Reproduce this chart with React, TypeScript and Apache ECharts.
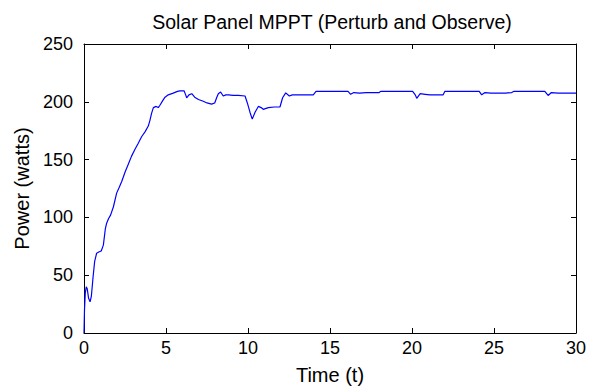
import React, { useEffect, useRef } from "react";
import * as echarts from "echarts";

const title = "Solar Panel MPPT (Perturb and Observe)";
const xName = "Time (t)";
const yName = "Power (watts)";

const timeValues: number[] = [
  0, 0.03, 0.08, 0.14, 0.2, 0.28, 0.37, 0.45, 0.55, 0.65, 0.77, 0.9, 1.05, 1.18, 1.3, 1.38, 1.5, 1.62, 1.79, 1.99,
  2.15, 2.3, 2.5, 2.7, 2.9, 3.11, 3.3, 3.52, 3.72, 3.92, 4.02, 4.12, 4.23, 4.4, 4.53, 4.63, 4.8, 4.94, 5.14, 5.44,
  5.7, 5.85, 6.1, 6.2, 6.26, 6.4, 6.57, 6.75, 6.98, 7.27, 7.5, 7.78, 7.97, 8.1, 8.19, 8.33, 8.49, 8.65, 8.8, 9.1,
  9.41, 9.82, 9.96, 10.12, 10.26, 10.43, 10.63, 10.8, 10.93, 11.24, 11.6, 11.95, 12.11, 12.3, 12.52, 12.7, 12.87,
  13.4, 13.98, 14.15, 14.6, 16.1, 16.26, 16.45, 16.8, 17.2, 17.5, 18.0, 18.09, 20.04, 20.2, 20.29, 20.5, 20.8,
  21.1, 21.5, 21.9, 22.0, 24.1, 24.25, 24.45, 24.8, 25.3, 25.7, 26.08, 26.2, 28.1, 28.3, 28.5, 28.9, 29.43, 30,
];

const powerValues: number[] = [
  0, 20, 35, 40, 38, 30, 27, 32, 48, 62, 69, 70, 71, 76, 90, 95, 99, 102, 109, 121,
  126, 131, 139, 146, 153, 159, 164, 170, 174, 179, 184, 190, 195, 196, 195, 197, 201, 204, 206, 207.5,
  209, 209.5, 209.5, 206, 203.5, 206, 207, 204, 202, 200.5, 199, 198, 199, 204, 207, 208.5, 205, 206, 206, 205.5,
  205.5, 205, 199, 191, 185, 191, 196, 195, 193.5, 195, 195.5, 195.5, 203.5, 207.7, 205, 206, 206,
  206, 206, 209, 209, 209, 206.5, 208, 207.5, 208, 208, 208, 209, 209, 206, 203, 207, 206.5,
  206, 206, 206, 209, 209, 206, 208, 207.5, 207.5, 207.5, 208, 209, 209, 205.5, 208, 207.5, 207.5, 207.5,
];

const xTicks = [0, 5, 10, 15, 20, 25, 30];
const yTicks = [0, 50, 100, 150, 200, 250];

export default function App() {
  const ref = useRef<HTMLDivElement>(null);
  useEffect(() => {
    if (!ref.current) return;
    const chart = echarts.init(ref.current, undefined, { renderer: "svg" });
    const font = "'Liberation Sans', Arial, Helvetica, sans-serif";
    const data = timeValues.map((t, i) => [t, powerValues[i]]);
    const xMin = xTicks[0];
    const xMax = xTicks[xTicks.length - 1];
    const xInt = xTicks[1] - xTicks[0];
    const yMin = yTicks[0];
    const yMax = yTicks[yTicks.length - 1];
    const yInt = yTicks[1] - yTicks[0];
    const axisLine = { show: true, onZero: false, lineStyle: { color: "#000", width: 1 } };
    const tick = { show: true, inside: true, length: 5, lineStyle: { color: "#000", width: 1 } };
    chart.setOption({
      animation: false,
      backgroundColor: "#fff",
      title: {
        text: title,
        left: 327,
        textAlign: "center",
        top: 7,
        textStyle: { fontFamily: font, fontSize: 19.5, fontWeight: "normal", color: "#000" },
      },
      grid: { left: 84, right: 13, top: 44, bottom: 54, containLabel: false },
      xAxis: [
        {
          type: "value",
          min: xMin,
          max: xMax,
          interval: xInt,
          position: "bottom",
          name: xName,
          nameLocation: "middle",
          nameGap: 32,
          nameTextStyle: { fontFamily: font, fontSize: 20, color: "#000" },
          axisLine,
          axisTick: tick,
          axisLabel: { fontFamily: font, fontSize: 18, color: "#000", margin: 6 },
          splitLine: { show: false },
        },
        {
          type: "value",
          min: xMin,
          max: xMax,
          interval: xInt,
          position: "top",
          axisLine,
          axisTick: tick,
          axisLabel: { show: false },
          splitLine: { show: false },
        },
      ],
      yAxis: [
        {
          type: "value",
          min: yMin,
          max: yMax,
          interval: yInt,
          position: "left",
          name: yName,
          nameLocation: "middle",
          nameGap: 50,
          nameTextStyle: { fontFamily: font, fontSize: 20, color: "#000" },
          axisLine,
          axisTick: tick,
          axisLabel: { fontFamily: font, fontSize: 18, color: "#000", margin: 11 },
          splitLine: { show: false },
        },
        {
          type: "value",
          min: yMin,
          max: yMax,
          interval: yInt,
          position: "right",
          axisLine,
          axisTick: tick,
          axisLabel: { show: false },
          splitLine: { show: false },
        },
      ],
      series: [
        {
          type: "line",
          data,
          showSymbol: false,
          symbol: "none",
          smooth: false,
          lineStyle: { color: "#0000ff", width: 1.2 },
          itemStyle: { color: "#0000ff" },
        },
      ],
    });
    return () => chart.dispose();
  }, []);
  return <div ref={ref} style={{ width: 589, height: 390, position: "absolute", left: 0, top: 0 }} />;
}
